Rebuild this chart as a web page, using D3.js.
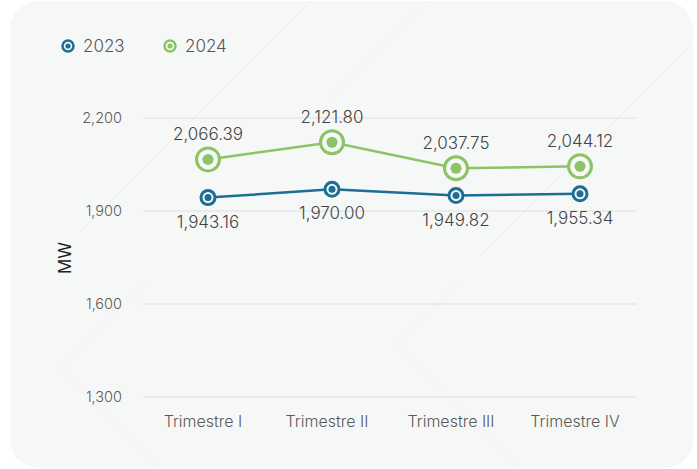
<!DOCTYPE html>
<meta charset="utf-8">
<style>
body { margin: 0; background: #fff; }
svg { font-family: Inter, "Noto Sans", sans-serif; }
.grid line { stroke: #dedede; stroke-width: 1px; }
.tick-label { fill: #5a5a5a; font-size: 14.5px; font-weight: 300; }
.cat-label { fill: #5a5a5a; font-size: 16px; font-weight: 300; }
.val-label { fill: #444; font-size: 17px; font-weight: 300; }
.legend text { fill: #555; font-size: 17px; font-weight: 300; }
.deco { fill: none; stroke: #eeeeee; stroke-width: 1px; }
</style>
<body>
<svg width="697" height="469"></svg>
<script src="https://d3js.org/d3.v7.min.js"></script>
<script>

// data
var categories = ["Trimestre I", "Trimestre II", "Trimestre III", "Trimestre IV"];
var years = ["2023", "2024"];
var values2023 = [1943.16, 1970.00, 1949.82, 1955.34];
var values2024 = [2066.39, 2121.80, 2037.75, 2044.12];
var yTicks = [1300, 1600, 1900, 2200];

var colors = {"2023": "#1d6d94", "2024": "#8cc365"};

var svg = d3.select("svg");

// card background
svg.append("clipPath").attr("id", "card")
  .append("rect")
    .attr("x", 10).attr("y", 1).attr("width", 683).attr("height", 467).attr("rx", 28);

svg.append("rect")
    .attr("x", 10).attr("y", 1).attr("width", 683).attr("height", 467).attr("rx", 28)
    .attr("fill", "#f6f8f7");

// faint decorative lines in the background
var deco = svg.append("g").attr("clip-path", "url(#card)");
[
  [[312, 0], [80, 232]],
  [[430, 0], [330, 100]],
  [[736, 0], [480, 256]],
  [[150, 280], [57, 368], [160, 469]],
  [[462, 280], [397, 345], [522, 469]]
].forEach(function(pts) {
  deco.append("path").attr("class", "deco").attr("d", d3.line()(pts));
});

// scales
var x = d3.scalePoint().domain(categories).range([146, 642]).padding(0.5);
var y = d3.scaleLinear().domain([1300, 2200]).range([397, 118]);

// grid
svg.append("g").attr("class", "grid")
  .selectAll("line")
  .data(yTicks)
  .enter().append("line")
    .attr("x1", 143).attr("x2", 637)
    .attr("y1", function(d) { return y(d); })
    .attr("y2", function(d) { return y(d); });

// y tick labels
svg.append("g")
  .selectAll("text")
  .data(yTicks)
  .enter().append("text")
    .attr("class", "tick-label")
    .attr("x", 122)
    .attr("y", function(d) { return y(d) + 5; })
    .attr("text-anchor", "end")
    .text(d3.format(","));

// category labels
svg.append("g")
  .selectAll("text")
  .data(categories)
  .enter().append("text")
    .attr("class", "cat-label")
    .attr("x", function(d) { return x(d) - 5; })
    .attr("y", 427)
    .attr("text-anchor", "middle")
    .text(function(d) { return d; });

// axis title
svg.append("text")
    .attr("transform", "translate(71,258) rotate(-90)")
    .attr("text-anchor", "middle")
    .attr("fill", "#222")
    .style("font-size", "17px")
    .style("font-weight", "400")
    .text("MW");

var fmt = d3.format(",.2f");
var line = d3.line()
    .x(function(d, i) { return x(categories[i]); })
    .y(function(d) { return y(d); });

function drawSeries(vals, color, ringR, ringW, dotR, labelDy) {
  var g = svg.append("g");
  g.append("path")
      .datum(vals)
      .attr("fill", "none")
      .attr("stroke", color)
      .attr("stroke-width", 2.5)
      .attr("d", line);

  var pts = g.selectAll(".pt")
    .data(vals)
    .enter().append("g")
      .attr("transform", function(d, i) { return "translate(" + x(categories[i]) + "," + y(d) + ")"; });
  pts.append("circle")
      .attr("r", ringR)
      .attr("fill", "#f6f8f7")
      .attr("stroke", color)
      .attr("stroke-width", ringW);
  pts.append("circle")
      .attr("r", dotR)
      .attr("fill", color);
  pts.append("text")
      .attr("class", "val-label")
      .attr("y", labelDy)
      .attr("text-anchor", "middle")
      .text(function(d) { return fmt(d); });
}

drawSeries(values2023, colors["2023"], 7, 3, 3.5, 30);
drawSeries(values2024, colors["2024"], 11.5, 3, 5.5, -19);

// legend
var legend = svg.append("g").attr("class", "legend");
var legendX = [68, 170];
years.forEach(function(yr, i) {
  legend.append("circle")
      .attr("cx", legendX[i]).attr("cy", 46).attr("r", 5.5)
      .attr("fill", "#f6f8f7")
      .attr("stroke", colors[yr]).attr("stroke-width", 2.5);
  legend.append("circle")
      .attr("cx", legendX[i]).attr("cy", 46).attr("r", 2.6)
      .attr("fill", colors[yr]);
  legend.append("text")
      .attr("x", legendX[i] + 15).attr("y", 52)
      .text(yr);
});

</script>
</body>
